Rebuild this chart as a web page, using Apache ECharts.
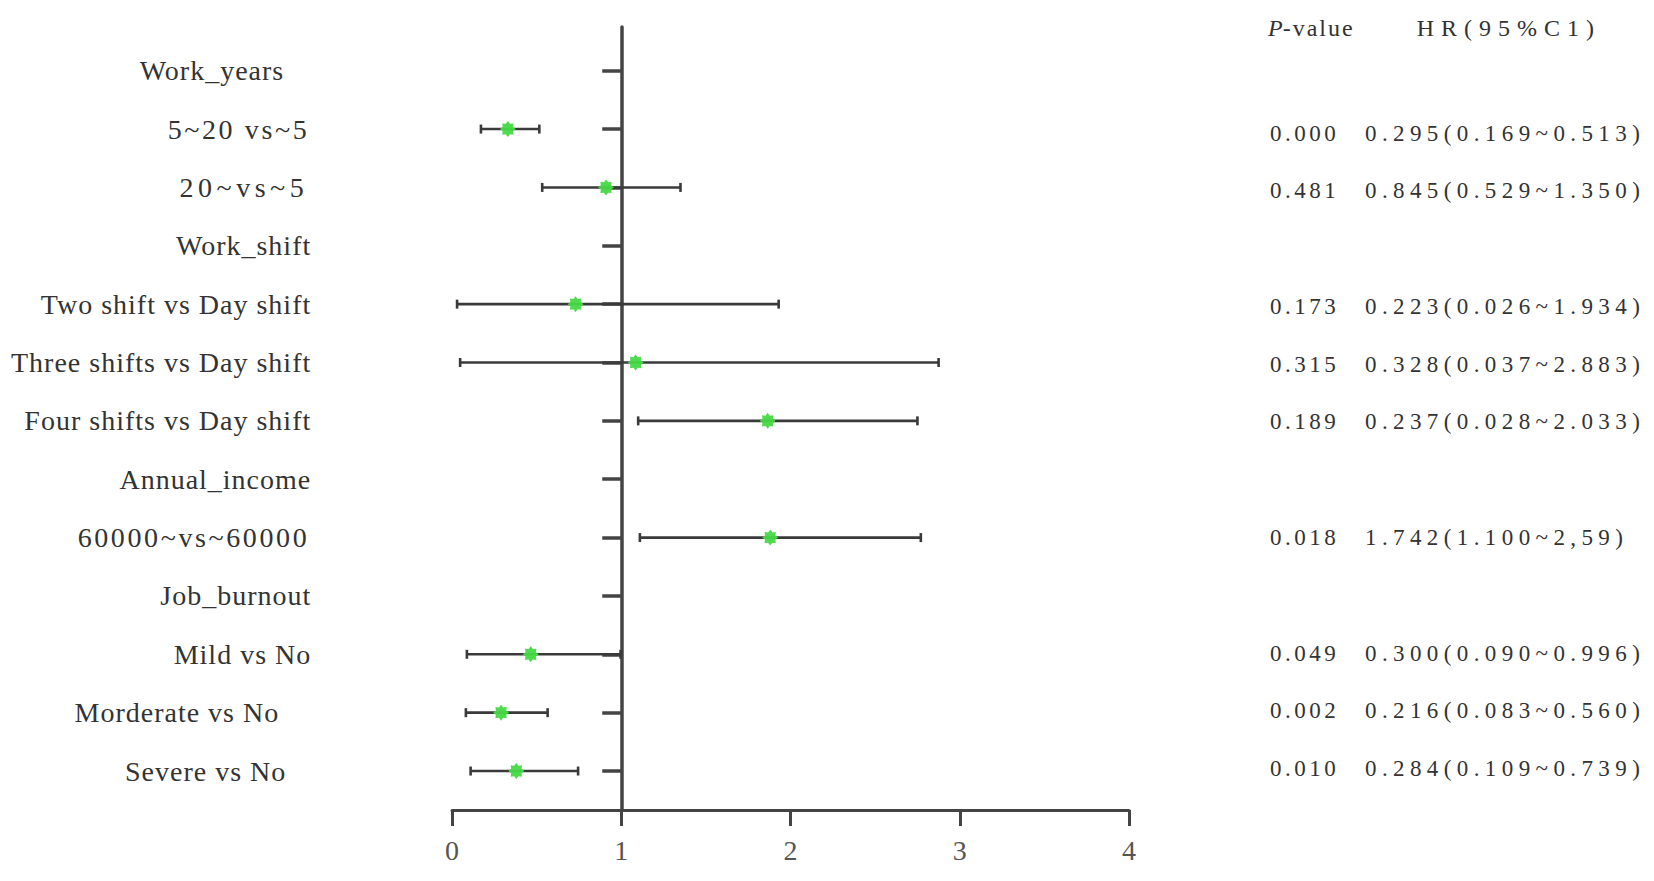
<!DOCTYPE html>
<html>
<head>
<meta charset="utf-8">
<script src="https://cdn.jsdelivr.net/npm/echarts@6/dist/echarts.min.js"></script>
<style>
  html, body { margin: 0; padding: 0; background: #fff; }
  #chart { width: 1654px; height: 881px; }
  /* letter-spacing per text family alias (SVG text) */
  #chart text[style*="LSa"] { letter-spacing: 1px; }
  #chart text[style*="LSb"] { letter-spacing: 2.6px; }
  #chart text[style*="LSc"] { letter-spacing: 4.5px; }
  #chart text[style*="LSp"] { letter-spacing: 3.5px; }
  #chart text[style*="LSh"] { letter-spacing: 5.4px; }
  #chart text[style*="LSv"] { letter-spacing: 2px; }
  #chart text[style*="LSk"] { letter-spacing: 7px; }
</style>
</head>
<body>
<div id="chart"></div>
<script>
// ---------------- data ----------------
const rowLabels = ['Work_years', '5~20 vs~5', '20~vs~5', 'Work_shift', 'Two shift vs Day shift',
  'Three shifts vs Day shift', 'Four shifts vs Day shift', 'Annual_income', '60000~vs~60000',
  'Job_burnout', 'Mild vs No', 'Morderate vs No', 'Severe vs No'];
const hrPoint = [null, 0.33, 0.91, null, 0.73, 1.085, 1.865, null, 1.88, null, 0.465, 0.29, 0.38];
const ciLow   = [null, 0.171, 0.533, null, 0.03, 0.048, 1.10, null, 1.11, null, 0.088, 0.082, 0.11];
const ciHigh  = [null, 0.516, 1.35, null, 1.93, 2.875, 2.75, null, 2.77, null, 0.996, 0.565, 0.745];
const pText   = ['', '0.000', '0.481', '', '0.173', '0.315', '0.189', '', '0.018', '', '0.049', '0.002', '0.010'];
const hrText  = ['', '0.295(0.169~0.513)', '0.845(0.529~1.350)', '', '0.223(0.026~1.934)',
  '0.328(0.037~2.883)', '0.237(0.028~2.033)', '', '1.742(1.100~2,59)', '',
  '0.300(0.090~0.996)', '0.216(0.083~0.560)', '0.284(0.109~0.739)'];
const xTicks = [0, 1, 2, 3, 4];
const headerP = 'P';
const headerPRest = '-value';
const headerHR = 'HR(95%C1)';

// ---------------- styles ----------------
const labelFamily = ['LSa', 'LSb', 'LSc', 'LSa', 'LSa', 'LSa', 'LSa', 'LSa', 'LSb', 'LSa', 'LSa', 'LSa', 'LSa'];
const labelPadRight = [27, 2, 3, 0, 0, 0, 0, 0, 2, 0, 0, 32, 25];
const serif = "'Liberation Serif', 'Times New Roman', serif";
const textColor = '#333';

const rowIdx = rowLabels.map((_, i) => i);
const dataRows = rowIdx.filter(i => hrPoint[i] != null);

const leftRich = {};
rowIdx.forEach(i => {
  leftRich['r' + i] = {
    fontFamily: labelFamily[i] + ', ' + serif,
    fontSize: 28,
    color: textColor,
    align: 'right',
    padding: [0, labelPadRight[i], 0, 0]
  };
});

const barData = dataRows.map(i => [i, ciLow[i], ciHigh[i]]);
const pointData = dataRows.map(i => [hrPoint[i], i]);

const starPath = 'path://M0,-10 L2.7,-6.5 L7.07,-7.07 L6.5,-2.7 L10,0 L6.5,2.7 L7.07,7.07 L2.7,6.5 L0,10 L-2.7,6.5 L-7.07,7.07 L-6.5,2.7 L-10,0 L-6.5,-2.7 L-7.07,-7.07 L-2.7,-6.5 Z';

const gridLeft = 452, gridRight = 525, gridTop = 27, gridBottom = 71;
const gridWidth = 1654 - gridLeft - gridRight;

const chart = echarts.init(document.getElementById('chart'), null, { renderer: 'svg' });
chart.setOption({
  animation: false,
  backgroundColor: '#fff',
  title: {
    left: 1263,
    top: 11,
    text: '{a|' + headerP + '}{b|' + headerPRest + '}{c|' + headerHR + '}',
    textStyle: {
      fontWeight: 'normal',
      rich: {
        a: { fontFamily: 'LSv, ' + serif, fontStyle: 'italic', fontWeight: 'normal', fontSize: 24, color: textColor },
        b: { fontFamily: 'LSv, ' + serif, fontWeight: 'normal', fontSize: 24, color: textColor, width: 134 },
        c: { fontFamily: 'LSk, ' + serif, fontWeight: 'normal', fontSize: 24, color: textColor }
      }
    }
  },
  grid: { left: gridLeft, right: gridRight, top: gridTop, bottom: gridBottom },
  xAxis: {
    type: 'value',
    position: 'bottom',
    min: 0, max: 4, interval: 1,
    splitLine: { show: false },
    axisLine: { onZero: false, lineStyle: { color: '#444', width: 3 } },
    axisTick: { length: 16, lineStyle: { color: '#444', width: 3 } },
    axisLabel: {
      customValues: xTicks,
      margin: 26,
      fontFamily: serif, fontSize: 28, color: '#555'
    }
  },
  yAxis: [{
    type: 'value',
    inverse: true,
    min: -0.749, max: 12.668,
    position: 'left',
    offset: -gridWidth / 4,
    splitLine: { show: false },
    axisLine: { show: true, onZero: false, lineStyle: { color: '#444', width: 3.5 } },
    axisTick: { show: true, customValues: rowIdx, length: 19, lineStyle: { color: '#444', width: 3.5 } },
    axisLabel: {
      customValues: rowIdx,
      margin: 310,
      formatter: v => '{r' + v + '|' + rowLabels[v] + '}',
      rich: leftRich
    }
  }, {
    type: 'value',
    inverse: true,
    min: -0.834, max: 12.713,
    position: 'right',
    splitLine: { show: false },
    axisLine: { show: false },
    axisTick: { show: false },
    axisLabel: {
      customValues: dataRows,
      margin: 141,
      align: 'left',
      formatter: v => '{p|' + pText[v] + '}{h|' + hrText[v] + '}',
      rich: {
        p: { fontFamily: 'LSp, ' + serif, fontSize: 23, color: textColor, width: 95, align: 'left' },
        h: { fontFamily: 'LSh, ' + serif, fontSize: 23, color: textColor, align: 'left' }
      }
    }
  }],
  series: [{
    type: 'custom',
    xAxisIndex: 0, yAxisIndex: 0,
    encode: { x: [1, 2], y: 0 },
    data: barData,
    z: 3,
    renderItem: function (params, api) {
      const row = api.value(0);
      const a = api.coord([api.value(1), row]);
      const b = api.coord([api.value(2), row]);
      const h = 4.5;
      const st = { stroke: '#3a3a3a', lineWidth: 2.6 };
      return {
        type: 'group',
        children: [
          { type: 'line', shape: { x1: a[0], y1: a[1], x2: b[0], y2: b[1] }, style: st },
          { type: 'line', shape: { x1: a[0], y1: a[1] - h, x2: a[0], y2: a[1] + h }, style: st },
          { type: 'line', shape: { x1: b[0], y1: b[1] - h, x2: b[0], y2: b[1] + h }, style: st }
        ]
      };
    }
  }, {
    type: 'scatter',
    xAxisIndex: 0, yAxisIndex: 0,
    data: pointData,
    symbol: starPath,
    symbolSize: 16,
    z: 4,
    itemStyle: { color: '#45da45', opacity: 0.95 }
  }]
});
</script>
</body>
</html>
